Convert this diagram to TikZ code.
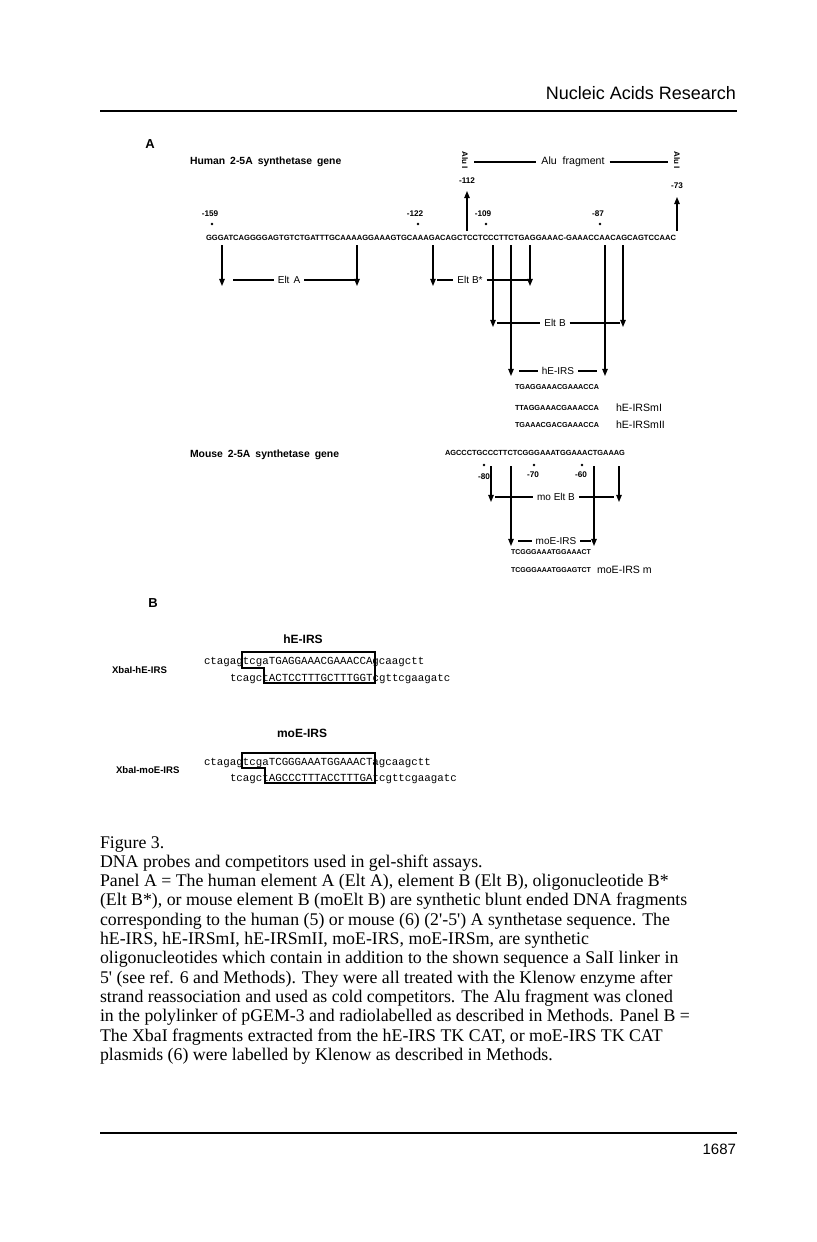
\documentclass[tikz,border=0pt]{standalone}
\usepackage{fontspec}
\setmainfont{Liberation Serif}
\setsansfont{Liberation Sans}
\newfontfamily\courf{Liberation Mono}
\usetikzlibrary{arrows.meta,calc}
\newcommand{\fs}[1]{\fontsize{#1}{#1}\selectfont}
\newcommand{\seqw}[2]{\resizebox{#1}{!}{\sffamily\bfseries #2}}
\begin{document}
\begin{tikzpicture}[x=0.5pt,y=-0.5pt,
 every node/.style={inner sep=0pt, outer sep=0pt},
 head/.style={font=\sffamily\bfseries\fs{5.2}},
 num/.style={font=\sffamily\bfseries\fs{4.1}},
 elt/.style={font=\sffamily\fs{5}, outer sep=2pt},
 eltb/.style={font=\sffamily\fs{5.3}},
 hl/.style={line width=1pt},
 arr/.style={line width=0.55pt,-{Triangle[length=3.6pt,width=2.8pt]}},
 dotm/.style={circle,fill,inner sep=0pt,minimum size=1.4pt},
 strand/.style={font=\courf\fs{5.4},anchor=base west},
 rulel/.style={line width=1pt},
 captxt/.style={font=\fs{8.9},anchor=base west},
 boxl/.style={line width=0.65pt},
 xlab/.style={font=\sffamily\bfseries\fs{4.8},anchor=west},
 ]
\useasboundingbox (0,0) rectangle (816,1242);
\fill[white] (0,0) rectangle (816,1242);

% header
\node[font=\sffamily\fs{9},anchor=base east] (hdr) at (736,99) {Nucleic Acids Research};
\coordinate (rt1) at (100,111); \coordinate (rt2) at (737,111);
\draw[rulel] (rt1) -- (rt2);

% ---------- Panel A
\node[font=\sffamily\bfseries\fs{6.5}] (lblA) at (150,144) {A};
\node[head,anchor=west] (human) at (190,162) {Human\hspace{2.5pt}2-5A\hspace{2.5pt}synthetase\hspace{2.5pt}gene};

% Alu fragment
\node[font=\sffamily\bfseries\fs{4},rotate=-90] (aluL) at (465,160) {Alu I};
\node[font=\sffamily\bfseries\fs{4},rotate=-90] (aluR) at (677,160) {Alu I};
\node[eltb,outer sep=2.5pt] (alu) at (573,162) {Alu\ \ fragment};
\coordinate (alu1) at (474,162); \coordinate (alu2) at (668,162);
\draw[hl] (alu1) -- (alu.west);
\draw[hl] (alu.east) -- (alu2);
\node[num] (n112) at (467,181) {-112};
\node[num] (n73) at (677,186) {-73};
\coordinate (u1b) at (467,231); \coordinate (u1t) at (467,191);
\coordinate (u2b) at (677,231); \coordinate (u2t) at (677,197);
\draw[arr] (u1b) -- (u1t);
\draw[arr] (u2b) -- (u2t);

% numbers on human sequence
\node[num] (n159) at (210,214) {-159};
\node[num] (n122) at (415,214) {-122};
\node[num] (n109) at (483,214) {-109};
\node[num] (n87) at (598,214) {-87};
\node[dotm] (d159) at (212,224) {};
\node[dotm] (d122) at (418,224) {};
\node[dotm] (d109) at (486,224) {};
\node[dotm] (d87) at (600,224) {};

\node[anchor=west] (hseq) at (206,238) {\seqw{235pt}{GGGATCAGGGGAGTGTCTGATTTGCAAAAGGAAAGTGCAAAGACAGCTCCTCCCTTCTGAGGAAAC-GAAACCAACAGCAGTCCAAC}};

% vertical arrows from human sequence
\foreach \nm/\x/\y in {va1/222/286, va2/357/286, vb1/433/286, vb2/530/286, vc1/493/327, vc2/623/327, vd1/511/376, vd2/605/376}{
  \coordinate (\nm t) at (\x,245);
  \coordinate (\nm e) at (\x,\y);
  \draw[arr] (\nm t) -- (\nm e);
}

% Elt A
\node[elt] (eltA) at (289,280) {Elt\hspace{2pt}A};
\coordinate (eAl) at (233,280); \coordinate (eAr) at (355,280);
\draw[hl] (eAl) -- (eltA.west);
\draw[hl] (eltA.east) -- (eAr);
% Elt B*
\node[elt] (eltBs) at (470,280) {Elt\hspace{1.5pt}B*};
\coordinate (eBsl) at (437,280); \coordinate (eBsr) at (528,280);
\draw[hl] (eBsl) -- (eltBs.west);
\draw[hl] (eltBs.east) -- (eBsr);
% Elt B
\node[elt] (eltB) at (555,323) {Elt\hspace{1.5pt}B};
\coordinate (eBl) at (497,323); \coordinate (eBr) at (620,323);
\draw[hl] (eBl) -- (eltB.west);
\draw[hl] (eltB.east) -- (eBr);
% hE-IRS
\node[elt] (heirs) at (558,371) {hE-IRS};
\coordinate (hIl) at (519,371); \coordinate (hIr) at (597,371);
\draw[hl] (hIl) -- (heirs.west);
\draw[hl] (heirs.east) -- (hIr);

\node[anchor=west] (s1) at (515,387) {\seqw{42pt}{TGAGGAAACGAAACCA}};
\node[anchor=west] (s2) at (515,408) {\seqw{42pt}{TTAGGAAACGAAACCA}};
\node[anchor=west] (s3) at (515,425) {\seqw{42pt}{TGAAACGACGAAACCA}};
\node[eltb,anchor=west] (l2) at (616,408) {hE-IRSmI};
\node[eltb,anchor=west] (l3) at (616,425) {hE-IRSmII};

% Mouse
\node[head,anchor=west] (mouse) at (190,455) {Mouse\hspace{2.5pt}2-5A\hspace{2.5pt}synthetase\hspace{2.5pt}gene};
\node[anchor=west] (mseq) at (445,453) {\seqw{90pt}{AGCCCTGCCCTTCTCGGGAAATGGAAACTGAAAG}};
\node[dotm] (d80) at (484,465) {};
\node[dotm] (d70) at (534,465) {};
\node[dotm] (d60) at (582,465) {};
\node[num] (n80) at (484,477) {-80};
\node[num] (n70) at (533,475) {-70};
\node[num] (n60) at (581,475) {-60};
\foreach \nm/\x/\y in {ma1/491/502, ma2/619/502, mb1/511/546, mb2/594/546}{
  \coordinate (\nm t) at (\x,466);
  \coordinate (\nm e) at (\x,\y);
  \draw[arr] (\nm t) -- (\nm e);
}
\node[elt] (moeltB) at (556,497) {mo Elt B};
\coordinate (mEl) at (495,497); \coordinate (mEr) at (614,497);
\draw[hl] (mEl) -- (moeltB.west);
\draw[hl] (moeltB.east) -- (mEr);
\node[elt] (moeirs) at (556,541) {moE-IRS};
\coordinate (mIl) at (518,541); \coordinate (mIr) at (591,541);
\draw[hl] (mIl) -- (moeirs.west);
\draw[hl] (moeirs.east) -- (mIr);
\node[anchor=west] (m1) at (511,552) {\seqw{40pt}{TCGGGAAATGGAAACT}};
\node[anchor=west] (m2) at (511,570) {\seqw{40pt}{TCGGGAAATGGAGTCT}};
\node[eltb,anchor=west] (lm2) at (597,570) {moE-IRS m};

% ---------- Panel B
\node[font=\sffamily\bfseries\fs{6.5}] (lblB) at (153,603) {B};
\node[font=\sffamily\bfseries\fs{6}] (bh) at (303,639) {hE-IRS};
\node[xlab] (xh) at (112,670) {XbaI-hE-IRS};
\draw[boxl] (242,652) -- (375,652) -- (375,683) -- (264,683) -- (264,668) -- (242,668) -- cycle;
\node[strand] (ht) at (204,664) {ctagagtcgaTGAGGAAACGAAACCAgcaagctt};
\node[strand] (hb) at (230,681) {tcagctACTCCTTTGCTTTGGTcgttcgaagatc};

\node[font=\sffamily\bfseries\fs{6}] (bm) at (302,733) {moE-IRS};
\node[xlab] (xm) at (116,770) {XbaI-moE-IRS};
\draw[boxl] (242,753) -- (375,753) -- (375,783) -- (265,783) -- (265,768) -- (242,768) -- cycle;
\node[strand] (mt) at (204,765) {ctagagtcgaTCGGGAAATGGAAACTagcaagctt};
\node[strand] (mb) at (230,781) {tcagctAGCCCTTTACCTTTGAtcgttcgaagatc};

% ---------- Caption
\foreach \t [count=\i] in {
 {Figure 3.},
 {DNA probes and competitors used in gel-shift assays.},
 {Panel A = The human element A (Elt A), element B (Elt B), oligonucleotide B*},
 {(Elt B*), or mouse element B (moElt B) are synthetic blunt ended DNA fragments},
 {corresponding to the human (5) or mouse (6) (2\textquotesingle-5\textquotesingle) A synthetase sequence. The},
 {hE-IRS, hE-IRSmI, hE-IRSmII, moE-IRS, moE-IRSm, are synthetic},
 {oligonucleotides which contain in addition to the shown sequence a SalI linker in},
 {5\textquotesingle\ (see ref. 6 and Methods). They were all treated with the Klenow enzyme after},
 {strand reassociation and used as cold competitors. The Alu fragment was cloned},
 {in the polylinker of pGEM-3 and radiolabelled as described in Methods. Panel B =},
 {The XbaI fragments extracted from the hE-IRS TK CAT, or moE-IRS TK CAT},
 {plasmids (6) were labelled by Klenow as described in Methods.}}{
  \node[captxt] (cap\i) at (100,{848+19.3*(\i-1)}) {\t};
}

% footer
\coordinate (rb1) at (100,1133); \coordinate (rb2) at (737,1133);
\draw[rulel] (rb1) -- (rb2);
\node[font=\sffamily\fs{7.5},anchor=base east] (pg) at (736,1154) {1687};
\end{tikzpicture}
\end{document}
